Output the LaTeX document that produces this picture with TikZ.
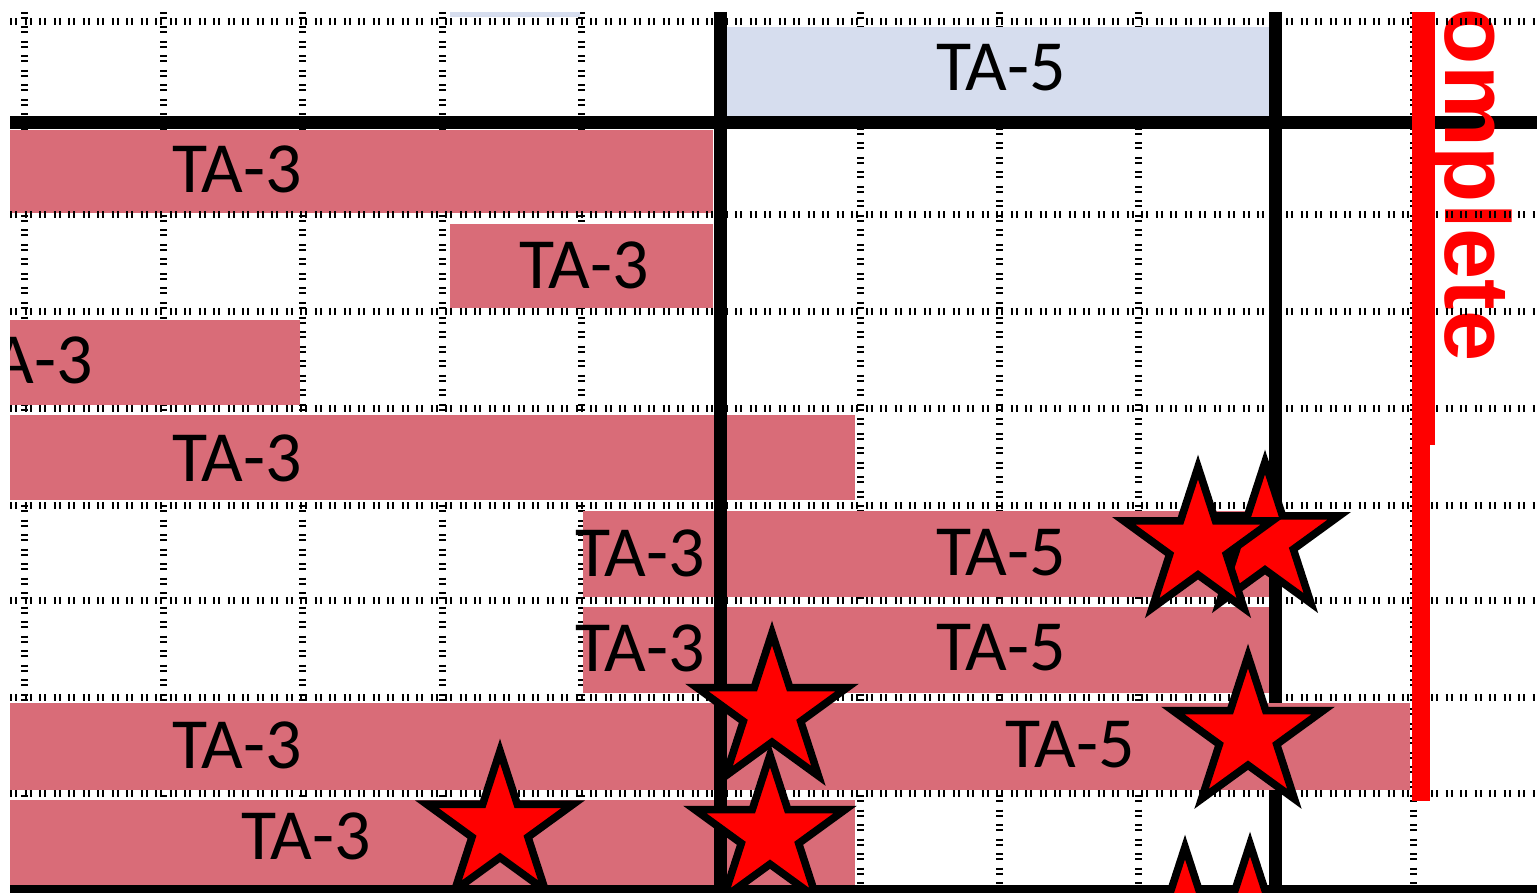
\documentclass[tikz,border=0pt]{standalone}
\usepackage{fontspec}
\newfontfamily\tafont{Carlito}
\newfontfamily\notefont{Liberation Sans}
\usetikzlibrary{shapes.geometric}
\definecolor{barpink}{RGB}{217,108,120}
\definecolor{headblue}{RGB}{214,221,238}
\definecolor{donered}{RGB}{255,0,0}
\begin{document}
\begin{tikzpicture}[x=0.5pt, y=-0.5pt,
  tick/.style={line width=3.5pt, dash pattern=on 1pt off 1.5pt on 1pt off 3.75pt},
  rule/.style={line width=6.5pt},
  bar/.style={fill=barpink},
  lab/.style={font=\tafont\fontsize{36}{36}\selectfont, inner sep=0pt},
  milestone/.style={star, star points=5, star point ratio=2.618, draw=black,
    fill=donered, line width=3.8pt, inner sep=0pt, minimum size=#1pt}]
  \useasboundingbox (0,0) rectangle (1537,893);
  \fill[white] (0,0) rectangle (1537,893);
  \begin{scope}
  \clip (10,12) rectangle (1537,893);
  \foreach \x in {24,163,302,442,581,860,999,1138,1413}
    \draw[tick] (\x,12) -- (\x,893);
  \fill[headblue] (727,27) rectangle (1269,116);
  \fill[headblue] (450,12) rectangle (580,17);
  \node[lab] (head) at (1001,68) {TA-5};
  \draw[rule] (1275.5,12) -- (1275.5,893);
  \fill[bar] (10,130) rectangle (713,213);
  \fill[bar] (450,224) rectangle (713,308);
  \fill[bar] (10,320) rectangle (300,405);
  \fill[bar] (10,415) rectangle (855,500);
  \fill[bar] (583,511) rectangle (1269,597);
  \fill[bar] (583,607) rectangle (1269,693);
  \fill[bar] (10,703) rectangle (1410,790);
  \fill[bar] (10,800) rectangle (855,893);
  \node[lab] (t1) at (237,169) {TA-3};
  \node[lab] (t2) at (584,265) {TA-3};
  \node[lab] (t3) at (28,360) {TA-3};
  \node[lab] (t4) at (237,458) {TA-3};
  \node[lab] (t5) at (640,553) {TA-3};
  \node[lab] (t6) at (640,648) {TA-3};
  \node[lab] (t7) at (237,745) {TA-3};
  \node[lab] (t8) at (306,836) {TA-3};
  \node[lab] (f5) at (1001,553) {TA-5};
  \node[lab] (f6) at (1001,648) {TA-5};
  \node[lab] (f7) at (1070,745) {TA-5};
  \draw[rule] (720.5,12) -- (720.5,893);
  \draw[rule] (10,122.5) -- (1537,122.5);
  \draw[rule] (10,891) -- (1537,891);
  \node[rotate=-90, anchor=base east, inner sep=0pt, text=donered,
    font=\notefont\bfseries\fontsize{46}{46}\selectfont] (done) at (1445,362) {Complete};
  \foreach \y in {22,215,312,408,505,600,697,793}
    \draw[tick] (10,\y) -- (1537,\y);
  \draw[donered, line width=11.5pt] (1423.5,12) -- (1423.5,445);
  \draw[donered, line width=9pt] (1421,445) -- (1421,801);
  \node[milestone=78] (s2) at (1265,540) {};
  \node[milestone=78] (s1) at (1198,545) {};
  \node[milestone=79] (s4) at (770,834) {};
  \node[milestone=79] (s3) at (772,712) {};
  \node[milestone=77] (s5) at (500,828) {};
  \node[milestone=79] (s6) at (1248,735) {};
  \node[milestone=79] (s7) at (1185,926) {};
  \node[milestone=79] (s8) at (1250,923) {};
  \end{scope}
\end{tikzpicture}
\end{document}
